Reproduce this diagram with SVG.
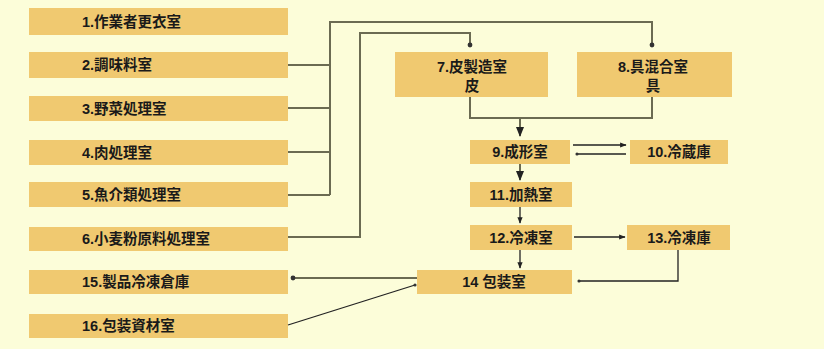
<svg xmlns="http://www.w3.org/2000/svg" width="824" height="349" viewBox="0 0 824 349">
<defs>
<style>
.bx{fill:#F0C970}
.t{font-family:"Liberation Sans","Noto Sans CJK JP",sans-serif;font-size:14.5px;font-weight:bold;fill:#1a1a1a}
.c{text-anchor:middle}
.ln{fill:none;stroke:#6b6b52;stroke-width:2}
.ar{fill:none;stroke:#222;stroke-width:1.3}
</style>
<marker id="ah" viewBox="0 0 10 10" refX="9" refY="5" markerWidth="5" markerHeight="5" orient="auto"><path d="M0,1 L10,5 L0,9 z" fill="#222"/></marker>
<marker id="dt" viewBox="0 0 10 10" refX="5" refY="5" markerWidth="3" markerHeight="3"><circle cx="5" cy="5" r="4" fill="#333"/></marker>
</defs>
<rect width="824" height="349" fill="#FCFDD9"/>
<g id="n1"><rect class="bx" x="29" y="8" width="259" height="27"/><text class="t" x="82" y="27">1.作業者更衣室</text></g>
<g id="n2"><rect class="bx" x="29" y="52" width="259" height="26"/><text class="t" x="82" y="70">2.調味料室</text></g>
<g id="n3"><rect class="bx" x="29" y="96" width="259" height="25"/><text class="t" x="82" y="114">3.野菜処理室</text></g>
<g id="n4"><rect class="bx" x="29" y="140" width="259" height="25"/><text class="t" x="82" y="158">4.肉処理室</text></g>
<g id="n5"><rect class="bx" x="29" y="182" width="259" height="25"/><text class="t" x="82" y="200">5.魚介類処理室</text></g>
<g id="n6"><rect class="bx" x="29" y="227" width="259" height="24"/><text class="t" x="82" y="244">6.小麦粉原料処理室</text></g>
<g id="n15"><rect class="bx" x="29" y="270" width="259" height="24"/><text class="t" x="82" y="287">15.製品冷凍倉庫</text></g>
<g id="n16"><rect class="bx" x="29" y="314" width="259" height="24"/><text class="t" x="82" y="331">16.包装資材室</text></g>
<g id="n7"><rect class="bx" x="395" y="52" width="153" height="45"/><text class="t c" x="472" y="72">7.皮製造室</text><text class="t c" x="472" y="91">皮</text></g>
<g id="n8"><rect class="bx" x="577" y="52" width="155" height="45"/><text class="t c" x="653" y="72">8.具混合室</text><text class="t c" x="653" y="91">具</text></g>
<g id="n9"><rect class="bx" x="470" y="140" width="100" height="24"/><text class="t c" x="520" y="157">9.成形室</text></g>
<g id="n10"><rect class="bx" x="630" y="140" width="98" height="24"/><text class="t c" x="679" y="157">10.冷蔵庫</text></g>
<g id="n11"><rect class="bx" x="470" y="182" width="102" height="25"/><text class="t c" x="521" y="200">11.加熱室</text></g>
<g id="n12"><rect class="bx" x="470" y="225" width="102" height="25"/><text class="t c" x="521" y="243">12.冷凍室</text></g>
<g id="n13"><rect class="bx" x="627" y="225" width="103" height="25"/><text class="t c" x="679" y="243">13.冷凍庫</text></g>
<g id="n14"><rect class="bx" x="417" y="270" width="155" height="24"/><text class="t c" x="494" y="287">14 包装室</text></g>
<g id="connectors">
<path class="ln" d="M288,65 H330 M288,108 H330 M288,152 H330 M288,195 H330 M330,195 V22 H652 V45" marker-end="url(#dt)"/>
<path class="ln" d="M288,237 H360 V33 H470 V45" marker-end="url(#dt)"/>
<path class="ln" d="M470,97 V118 H652 V97"/>
<path class="ln" d="M520,118 V136" marker-end="url(#ah)"/>
<path class="ar" d="M573,145 H626" marker-end="url(#ah)"/>
<path class="ar" d="M626,154 H577" marker-end="url(#dt)"/>
<path class="ln" d="M520,164 V180" marker-end="url(#ah)"/>
<path class="ar" d="M520,207 V223" marker-end="url(#ah)"/>
<path class="ar" d="M574,237 H625" marker-end="url(#ah)"/>
<path class="ar" d="M520,250 V268" marker-end="url(#ah)"/>
<path class="ar" d="M678,250 V281 H579" marker-end="url(#dt)"/>
<path class="ln" d="M417,278 H293" marker-end="url(#dt)"/>
<path class="ar" d="M288,325 L415,285" marker-end="url(#dt)"/>
</g>
</svg>
